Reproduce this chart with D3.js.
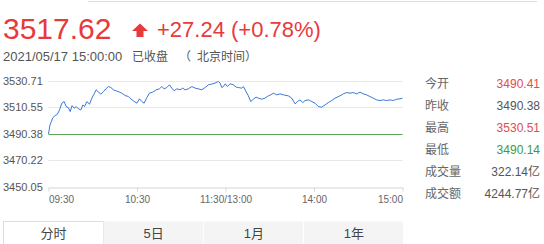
<!DOCTYPE html>
<html>
<head>
<meta charset="utf-8">
<script src="https://cdn.jsdelivr.net/npm/d3@7"></script>
<style>
  body { margin: 0; background: #fff; }
  svg { display: block; font-family: "Liberation Sans", Arial, "Noto Sans CJK SC", sans-serif; }
</style>
</head>
<body>
<div id="main"></div>
<script>
// minutes since 09:30 (lunch break removed) and index level
var minutes = [0, 1, 3, 4.5, 6, 7.5, 9, 10.6, 12, 13.5, 14.7, 16, 17.4, 18.8, 20.3, 22, 23.3, 24.4, 26, 27.8,
  29.4, 31.2, 32.3, 33.9, 35.5, 37.3, 38.9, 40.6, 42.3, 44, 45.9, 48.1, 49.7, 52, 54.2, 55.8, 57.6, 59.9,
  61.7, 63.3, 64.8, 66.7, 68.4, 70.7, 73, 75.2, 76.8, 78.4, 80.2, 82, 83.6, 85.2, 87, 89.2, 91, 92.6, 94.8,
  97.2, 99.4, 101.6, 103.9, 106.2, 108.4, 110.7, 112.9, 115.2, 116.3, 117.5, 118.6, 119.8, 121.3, 123.1,
  125.3, 127.2, 128.7, 131, 132.1, 133.9, 135.5, 137.1, 138.9, 140.7, 142.3, 144.6, 146.8, 149, 150.7,
  152.4, 154.7, 157, 159.2, 162.6, 164.9, 167.2, 168.7, 170.5, 172.4, 173.9, 176.2, 178.5, 180.7, 182.9,
  185.2, 187.5, 189.7, 192, 194.2, 195.8, 197.6, 199.9, 202.2, 204.4, 206.6, 208.9, 211.2, 213.4, 215.7,
  217.9, 220.2, 222.5, 224.7, 227, 229.3, 231.5, 233.8, 236.1, 238.3, 240];
var prices = [3490.41, 3497.26, 3502.83, 3504.36, 3505.43, 3508.71, 3513.83, 3515.05, 3511.24, 3510.47,
  3507.42, 3512.0, 3510.01, 3511.24, 3509.48, 3508.71, 3512.53, 3511.24, 3515.05, 3513.07, 3517.65,
  3521.47, 3523.99, 3522.24, 3520.71, 3522.7, 3524.76, 3526.51, 3525.75, 3524.0, 3523.23, 3522.24,
  3521.47, 3519.64, 3518.88, 3517.12, 3515.6, 3513.83, 3517.12, 3515.05, 3513.83, 3518.11, 3521.47,
  3522.24, 3524.0, 3524.76, 3526.51, 3524.76, 3525.75, 3527.81, 3525.29, 3523.23, 3524.76, 3524.0,
  3525.29, 3524.0, 3524.76, 3526.51, 3525.29, 3524.76, 3524.0, 3525.75, 3527.81, 3528.35, 3529.11,
  3530.33, 3529.11, 3525.75, 3526.51, 3528.58, 3526.51, 3528.58, 3527.81, 3526.05, 3525.75, 3525.29,
  3526.51, 3522.7, 3519.41, 3515.05, 3516.89, 3518.42, 3517.65, 3516.89, 3517.65, 3519.41, 3520.17,
  3521.47, 3520.17, 3520.94, 3520.17, 3519.41, 3517.65, 3513.3, 3515.05, 3516.35, 3514.29, 3515.82,
  3516.35, 3515.05, 3513.83, 3511.24, 3510.78, 3512.53, 3514.29, 3515.82, 3517.65, 3518.42, 3519.41,
  3520.94, 3521.93, 3521.47, 3521.93, 3520.94, 3522.24, 3520.94, 3520.17, 3518.88, 3517.65, 3516.35,
  3515.82, 3516.35, 3515.82, 3516.35, 3515.82, 3516.89, 3517.12, 3517.62];
var prevClose = 3490.38;
var yTicks = [3450.05, 3470.22, 3490.38, 3510.55, 3530.71];
var xTicks = [0, 60, 120, 180, 240];
var xTickLabels = ["09:30", "10:30", "11:30/13:00", "14:00", "15:00"];
var statLabels = ["今开", "昨收", "最高", "最低", "成交量", "成交额"];
var statValues = ["3490.41", "3490.38", "3530.51", "3490.14", "322.14亿", "4244.77亿"];
var statKinds = ["up", "flat", "up", "down", "flat", "flat"];
var tabs = ["分时", "5日", "1月", "1年"];

var red = "#e8393b", green = "#3e9a3e", blue = "#3b78d8";
var kindColor = { up: "#e24d4d", flat: "#555", down: "#3e9a3e" };

var svg = d3.select("#main").append("svg")
    .attr("width", 544)
    .attr("height", 244);

svg.append("line")
    .attr("x1", 88).attr("x2", 537).attr("y1", 1.5).attr("y2", 1.5)
    .attr("stroke", "#dcdcdc");

// header
svg.append("text").attr("x", 3).attr("y", 39)
    .attr("font-size", 30).attr("fill", red).text("3517.62");
svg.append("path")
    .attr("d", "M132,31 L140,23.5 L148,31 L143.5,31 L143.5,37 L136.5,37 L136.5,31 Z")
    .attr("fill", red);
svg.append("text").attr("x", 157).attr("y", 37)
    .attr("font-size", 22).attr("fill", red).text("+27.24 (+0.78%)");

var sub = svg.append("g").attr("fill", "#555");
sub.append("text").attr("x", 3).attr("y", 61).attr("font-size", 13).text("2021/05/17 15:00:00");
sub.append("text").attr("x", 132).attr("y", 61).attr("font-size", 12).text("已收盘");
sub.append("text").attr("x", 179).attr("y", 61).attr("font-size", 12).text("（");
sub.append("text").attr("x", 197).attr("y", 61).attr("font-size", 12).text("北京时间");
sub.append("text").attr("x", 245).attr("y", 61).attr("font-size", 12).text("）");

// chart
var x = d3.scaleLinear().domain([0, 240]).range([48.5, 402.5]);
var y = d3.scaleLinear().domain([3450.05, 3530.71]).range([187, 81]);

svg.append("g").selectAll("line")
    .data(yTicks.filter(function (d) { return d !== prevClose && d !== 3450.05; }))
  .enter().append("line")
    .attr("x1", x(0)).attr("x2", x(240))
    .attr("y1", function (d) { return Math.round(y(d)) + 0.5; })
    .attr("y2", function (d) { return Math.round(y(d)) + 0.5; })
    .attr("stroke", "#e8e8e8");

svg.append("g").selectAll("text")
    .data(yTicks)
  .enter().append("text")
    .attr("x", 3)
    .attr("y", function (d) { return y(d) + 4; })
    .attr("font-size", 11).attr("fill", "#555")
    .text(function (d) { return d.toFixed(2); });

var xAxis = svg.append("g")
    .attr("transform", "translate(0," + (Math.round(y(3450.05)) + 0.5) + ")")
    .call(d3.axisBottom(x).tickValues(xTicks).tickSize(4).tickSizeOuter(0).tickFormat(function (d, i) { return xTickLabels[i]; }));
xAxis.select(".domain").attr("stroke", "#d5d5d5");
xAxis.selectAll(".tick line").attr("stroke", "#d5d5d5");
xAxis.selectAll(".tick text")
    .attr("font-family", null).attr("font-size", 10).attr("fill", "#666").attr("dy", "0.8em")
    .attr("text-anchor", function (d, i) { return i === 0 ? "start" : (i === xTicks.length - 1 ? "end" : "middle"); });

svg.append("line")
    .attr("x1", x(0)).attr("x2", x(240))
    .attr("y1", Math.round(y(prevClose)) + 0.5).attr("y2", Math.round(y(prevClose)) + 0.5)
    .attr("stroke", "#5aa35a").attr("stroke-width", 1);

var line = d3.line()
    .x(function (d, i) { return x(minutes[i]); })
    .y(function (d) { return y(d); });

svg.append("path")
    .datum(prices)
    .attr("d", line)
    .attr("fill", "none")
    .attr("stroke", blue)
    .attr("stroke-width", 1);

// stats panel
var stats = svg.append("g");
stats.selectAll("text.lab")
    .data(statLabels)
  .enter().append("text").attr("class", "lab")
    .attr("x", 425)
    .attr("y", function (d, i) { return 88 + i * 21.9; })
    .attr("font-size", 12).attr("fill", "#666")
    .text(function (d) { return d; });
stats.selectAll("text.val")
    .data(statValues)
  .enter().append("text").attr("class", "val")
    .attr("x", 540)
    .attr("y", function (d, i) { return 88 + i * 21.9; })
    .attr("text-anchor", "end")
    .attr("font-size", 12)
    .attr("fill", function (d, i) { return kindColor[statKinds[i]]; })
    .text(function (d) { return d; });

// tabs
var tabX = d3.scaleBand().domain(tabs).range([3.5, 404]).paddingInner(0);
var tab = svg.append("g").selectAll("g")
    .data(tabs)
  .enter().append("g");
tab.append("rect")
    .attr("x", function (d) { return tabX(d); })
    .attr("y", 221.5)
    .attr("width", function (d, i) { return tabX.bandwidth() - (i === 0 ? 0 : 1); })
    .attr("height", 30)
    .attr("fill", function (d, i) { return i === 0 ? "#fff" : "#f4f4f4"; })
    .attr("stroke", function (d, i) { return i === 0 ? "#dedede" : "none"; });
tab.append("text")
    .attr("x", function (d) { return tabX(d) + tabX.bandwidth() / 2; })
    .attr("y", 238)
    .attr("text-anchor", "middle")
    .attr("font-size", 13)
    .attr("fill", "#444")
    .text(function (d) { return d; });
</script>
</body>
</html>
